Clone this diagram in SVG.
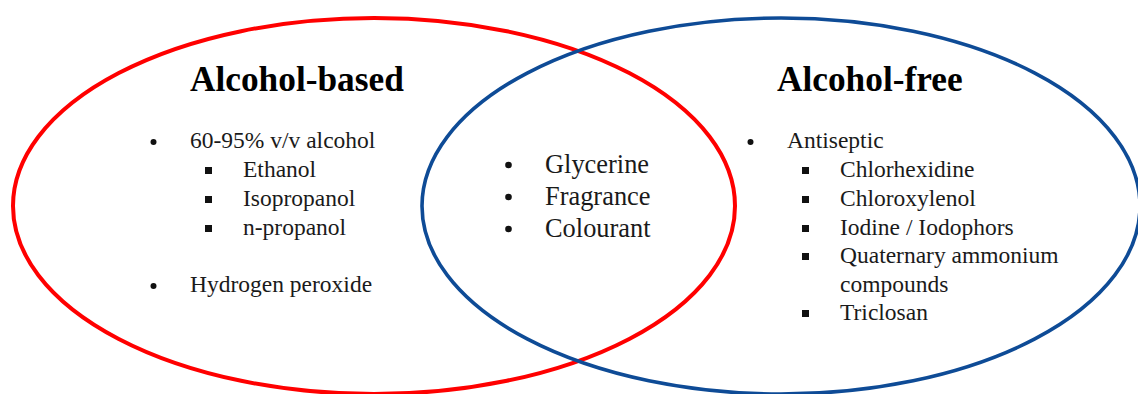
<svg xmlns="http://www.w3.org/2000/svg" width="1138" height="394" viewBox="0 0 1138 394">
<style>
.ring{fill:none;}
.red{stroke:#FF0000;stroke-width:4;}
.blue{stroke:#0E4B96;stroke-width:3.6;}
.title{font-family:"Liberation Serif","Times New Roman",serif;font-weight:bold;font-size:35.3px;fill:#000;}
.body{font-family:"Liberation Serif","Times New Roman",serif;font-size:23.5px;fill:#1a1a1a;}
.mid{font-family:"Liberation Serif","Times New Roman",serif;font-size:26.4px;fill:#1a1a1a;}
.dot{fill:#111;}
.sq{fill:#111;}
</style>
<rect width="1138" height="394" fill="#fff"/>
<g id="alcohol-based">
<ellipse class="ring red" cx="374" cy="206" rx="361" ry="188"/>
<text class="title" x="190" y="91">Alcohol-based</text>
<circle class="dot" cx="153.5" cy="142" r="3"/>
<text class="body" x="190" y="148">60-95% v/v alcohol</text>
<rect class="sq" x="205" y="167" width="7" height="7"/>
<text class="body" x="243" y="177">Ethanol</text>
<rect class="sq" x="205" y="196" width="7" height="7"/>
<text class="body" x="243" y="206">Isopropanol</text>
<rect class="sq" x="205" y="225" width="7" height="7"/>
<text class="body" x="243" y="235">n-propanol</text>
<circle class="dot" cx="153.5" cy="286" r="3"/>
<text class="body" x="190" y="292">Hydrogen peroxide</text>
</g>
<g id="alcohol-free">
<ellipse class="ring blue" cx="781" cy="206" rx="359" ry="188"/>
<text class="title" x="777" y="91">Alcohol-free</text>
<circle class="dot" cx="750.5" cy="142" r="3"/>
<text class="body" x="787" y="148">Antiseptic</text>
<rect class="sq" x="802" y="167" width="7" height="7"/>
<text class="body" x="840" y="177">Chlorhexidine</text>
<rect class="sq" x="802" y="196" width="7" height="7"/>
<text class="body" x="840" y="206">Chloroxylenol</text>
<rect class="sq" x="802" y="225" width="7" height="7"/>
<text class="body" x="840" y="235">Iodine / Iodophors</text>
<rect class="sq" x="802" y="253" width="7" height="7"/>
<text class="body" x="840" y="263">Quaternary ammonium</text>
<text class="body" x="840" y="292">compounds</text>
<rect class="sq" x="802" y="310" width="7" height="7"/>
<text class="body" x="840" y="320">Triclosan</text>
</g>
<g id="shared">
<circle class="dot" cx="508.5" cy="165" r="3.3"/>
<text class="mid" x="545" y="173">Glycerine</text>
<circle class="dot" cx="508.5" cy="197" r="3.3"/>
<text class="mid" x="545" y="205">Fragrance</text>
<circle class="dot" cx="508.5" cy="229" r="3.3"/>
<text class="mid" x="545" y="237">Colourant</text>
</g>
<g id="connectors"></g>
</svg>
